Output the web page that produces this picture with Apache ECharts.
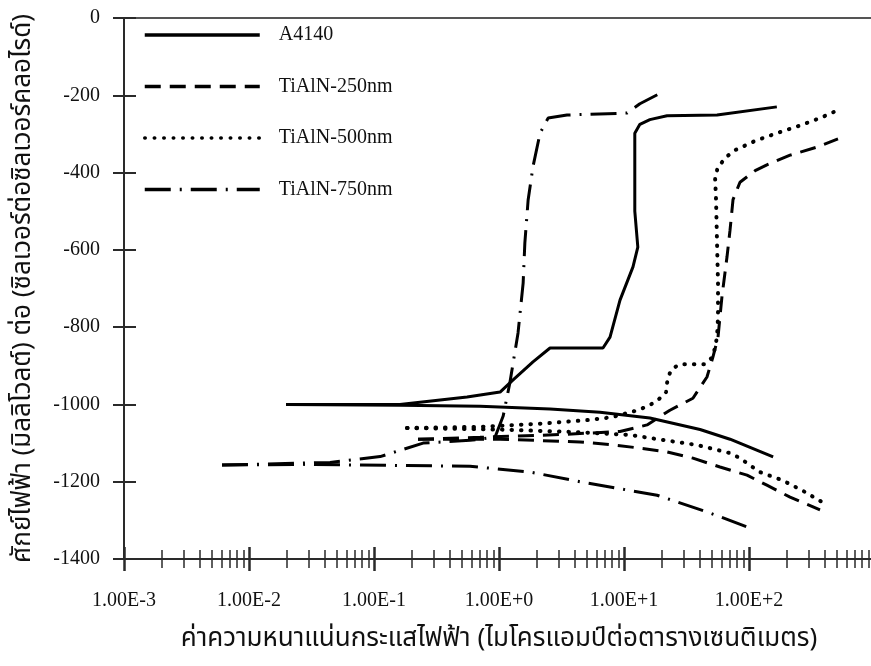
<!DOCTYPE html>
<html>
<head>
<meta charset="utf-8">
<script src="https://cdn.jsdelivr.net/npm/echarts@6/dist/echarts.min.js"></script>
<style>
html,body{margin:0;padding:0;background:#fff;}
#chart{width:871px;height:666px;}
</style>
</head>
<body>
<div id="chart"></div>
<script>
// ---- data (current density [µA/cm²], potential [mV]) ----
const seriesNames = ['A4140', 'TiAlN-250nm', 'TiAlN-500nm', 'TiAlN-750nm'];

const a4140Cathodic = [[0.0198,-1000],[0.161,-1002],[0.705,-1005],[2.56,-1012],[6.43,-1020],[16.1,-1035],[40.6,-1065],[70.5,-1090],[156,-1136]];
const a4140Anodic = [[0.0198,-1000],[0.161,-1000],[0.555,-981],[1.02,-968],[1.29,-937],[1.87,-890],[2.56,-854],[6.79,-854],[7.73,-826],[9.29,-730],[11.8,-644],[12.9,-593],[12.2,-500],[12.2,-427],[12.2,-298],[13.4,-275],[16.1,-263],[22.1,-253],[55.5,-251],[167,-230]];

const tialn250Cathodic = [[0.2249,-1090],[1.02,-1090],[4.45,-1097],[8.17,-1105],[13.4,-1113],[22.1,-1123],[35.6,-1139],[58.6,-1162],[96.4,-1183],[139,-1209],[213,-1240],[370,-1273]];
const tialn250Anodic = [[0.2249,-1090],[0.705,-1085],[3.08,-1078],[9.29,-1070],[15.3,-1053],[23.3,-1015],[35.6,-984],[46.1,-929],[51.5,-877],[56.5,-826],[60.8,-720],[66.7,-618],[70.5,-549],[74.5,-470],[84.7,-425],[112,-395],[139,-380],[213,-355],[350,-334],[515,-313]];

const tialn500Cathodic = [[0.1837,-1061],[1.02,-1065],[4.45,-1072],[11.2,-1079],[20.5,-1092],[38.4,-1105],[70.5,-1126],[84.7,-1139],[122,-1175],[184,-1196],[265,-1222],[410,-1258]];
const tialn500Anodic = [[0.1837,-1061],[0.705,-1058],[2.13,-1050],[5.35,-1040],[8.02,-1033],[12.9,-1015],[16.1,-1002],[19.4,-984],[21.7,-968],[22.1,-945],[22.5,-929],[24.2,-908],[28.1,-896],[43.7,-896],[51.5,-877],[55.5,-826],[56.5,-774],[56.5,-686],[55.5,-582],[54.5,-471],[53.5,-411],[56.5,-386],[65.5,-360],[77.3,-342],[112,-318],[167,-298],[247,-280],[370,-259],[535,-236]];

const tialn750Cathodic = [[0.00608,-1157],[0.0256,-1155],[0.161,-1158],[0.586,-1160],[1.77,-1175],[4.45,-1200],[18.4,-1235],[48.8,-1281],[102,-1320]];
const tialn750Anodic = [[0.00608,-1157],[0.0445,-1150],[0.112,-1135],[0.247,-1100],[0.586,-1093],[0.929,-1085],[1.08,-1030],[1.22,-945],[1.42,-815],[1.56,-686],[1.61,-582],[1.71,-471],[1.87,-385],[2.13,-298],[2.47,-259],[3.50,-251],[10.6,-246],[13.4,-222],[20.5,-191]];

// ---- axis ticks ----
const decadeTicks = [0.001, 0.01, 0.1, 1, 10, 100, 1000];
const decadeLabels = [0.001, 0.01, 0.1, 1, 10, 100];
const minorMultipliers = [2, 3, 4, 5, 6, 7, 8, 9];
const minorTicks = [];
decadeTicks.slice(0, -1).forEach(d => minorMultipliers.forEach(m => minorTicks.push(+(d * m).toPrecision(3))));

const xTitle = 'ค่าความหนาแน่นกระแสไฟฟ้า (ไมโครแอมป์ต่อตารางเซนติเมตร)';
const yTitle = 'ศักย์ไฟฟ้า (มิลลิโวลต์) ต่อ (ซิลเวอร์ต่อซิลเวอร์คลอไรด์)';

// ---- styles ----
const serif = 'Liberation Serif, Times New Roman, serif';
const thai = 'Noto Sans Thai, Loma, Garuda, Norasi, Kinnari, Noto Sans, DejaVu Sans, sans-serif';
const axisColor = '#2a2a2a';
const styles = {
  'A4140': {type: 'solid', width: 3},
  'TiAlN-250nm': {type: [16, 9], width: 3},
  'TiAlN-500nm': {type: [0.5, 9], width: 4, cap: 'round'},
  'TiAlN-750nm': {type: [26, 9, 2, 9], width: 3}
};

function expFmt(v) {
  const e = Math.round(Math.log10(v));
  return '1.00E' + (e >= 0 ? '+' : '') + e;
}

const baseX = {type: 'log', logBase: 10, min: 0.001, max: 1000, gridIndex: 0, splitLine: {show: false}};

function mk(name, data) {
  return {
    name: name, type: 'line', data: data, showSymbol: false, symbol: 'none',
    lineStyle: Object.assign({color: '#000'}, styles[name]),
    itemStyle: {color: '#000'},
    z: 3, silent: true, animation: false
  };
}

const chart = echarts.init(document.getElementById('chart'), null, {renderer: 'canvas'});
chart.setOption({
  animation: false,
  backgroundColor: '#fff',
  grid: {left: 124, top: 18, width: 750, height: 541, containLabel: false, outerBoundsMode: 'none'},
  legend: {
    orient: 'vertical', left: 143, top: 25, padding: 0, itemWidth: 115, itemHeight: 14, itemGap: 31.5,
    data: seriesNames,
    itemStyle: {opacity: 0},
    lineStyle: {width: 3.5},
    textStyle: {fontFamily: serif, fontSize: 20, color: '#111', padding: [0, 0, 0, 14]}
  },
  xAxis: [
    Object.assign({}, baseX, {
      position: 'bottom',
      name: xTitle, nameLocation: 'middle', nameGap: 69,
      nameTextStyle: {fontFamily: thai, fontSize: 26, color: '#111'},
      axisLine: {show: true, onZero: false, lineStyle: {color: axisColor, width: 2}},
      axisTick: {show: true, inside: false, length: 9, customValues: minorTicks, lineStyle: {color: axisColor, width: 1.5}},
      axisLabel: {show: true, customValues: decadeLabels, formatter: expFmt, margin: 32, fontFamily: serif, fontSize: 20, color: '#111'},
      minorTick: {show: false}
    }),
    Object.assign({}, baseX, {
      position: 'bottom',
      axisLine: {show: false, onZero: false},
      axisTick: {show: true, inside: true, length: 9, customValues: minorTicks, lineStyle: {color: axisColor, width: 1.5}},
      axisLabel: {show: false}
    }),
    Object.assign({}, baseX, {
      position: 'bottom',
      axisLine: {show: false, onZero: false},
      axisTick: {show: true, inside: false, length: 12, customValues: decadeTicks, lineStyle: {color: axisColor, width: 2.5}},
      axisLabel: {show: false}
    }),
    Object.assign({}, baseX, {
      position: 'bottom',
      axisLine: {show: false, onZero: false},
      axisTick: {show: true, inside: true, length: 12, customValues: decadeTicks, lineStyle: {color: axisColor, width: 2.5}},
      axisLabel: {show: false}
    }),
    Object.assign({}, baseX, {
      position: 'top',
      axisLine: {show: true, onZero: false, lineStyle: {color: '#555', width: 2}},
      axisTick: {show: false},
      axisLabel: {show: false}
    })
  ],
  yAxis: [
    {
      type: 'value', min: -1400, max: 0, interval: 200, position: 'left',
      name: yTitle, nameLocation: 'middle', nameGap: 86, nameRotate: 90,
      nameTextStyle: {fontFamily: thai, fontSize: 26, color: '#111'},
      axisLine: {show: true, onZero: false, lineStyle: {color: axisColor, width: 2}},
      axisTick: {show: true, inside: false, length: 11, lineStyle: {color: axisColor, width: 2}},
      axisLabel: {margin: 24, fontFamily: serif, fontSize: 20, color: '#111', formatter: v => String(v)},
      splitLine: {show: false}
    },
    {
      type: 'value', min: -1400, max: 0, interval: 200, position: 'left',
      axisLine: {show: false, onZero: false},
      axisTick: {show: true, inside: true, length: 12, lineStyle: {color: axisColor, width: 2}},
      axisLabel: {show: false},
      splitLine: {show: false}
    }
  ],
  series: [
    mk('A4140', a4140Cathodic),
    mk('A4140', a4140Anodic),
    mk('TiAlN-250nm', tialn250Cathodic),
    mk('TiAlN-250nm', tialn250Anodic),
    mk('TiAlN-500nm', tialn500Cathodic),
    mk('TiAlN-500nm', tialn500Anodic),
    mk('TiAlN-750nm', tialn750Cathodic),
    mk('TiAlN-750nm', tialn750Anodic)
  ]
});
</script>
</body>
</html>
